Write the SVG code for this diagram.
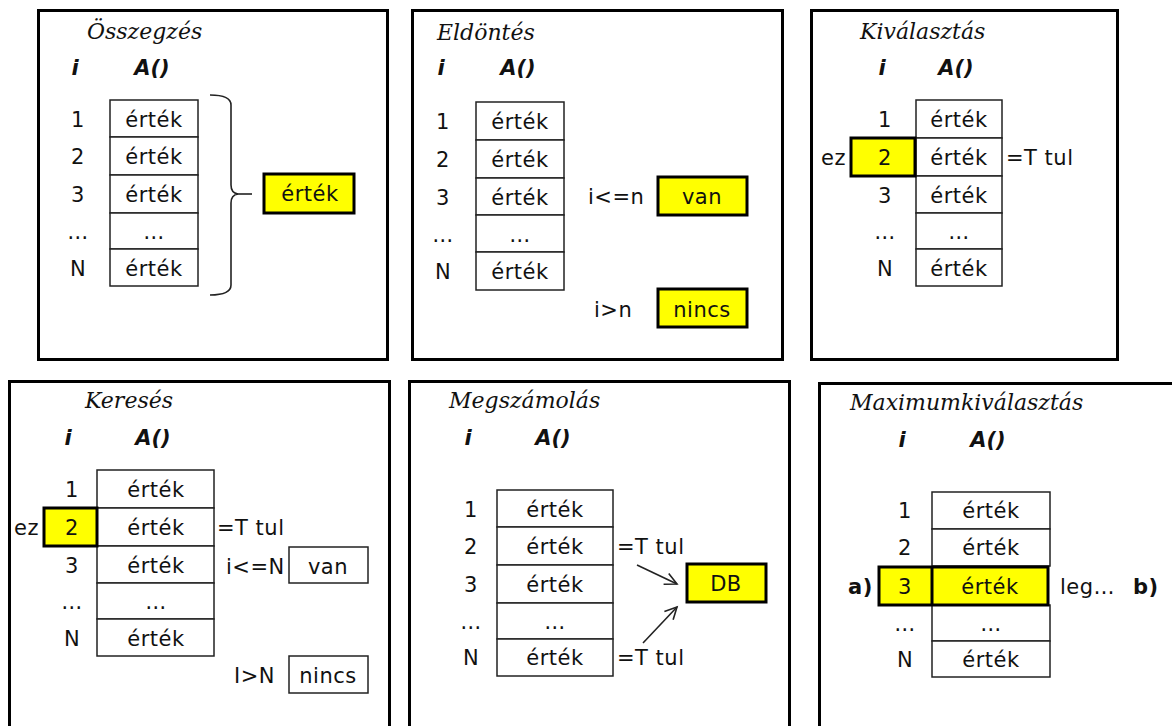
<svg xmlns="http://www.w3.org/2000/svg" width="1172" height="726" viewBox="0 0 1172 726">
<defs>
<style>
.frame{fill:none;stroke:#000;stroke-width:3}
.cell{fill:#fff;stroke:#222;stroke-width:1.5}
.hl{fill:#ff0;stroke:#000;stroke-width:3}
.box{fill:#fff;stroke:#222;stroke-width:1.5}
.t{font-family:"DejaVu Sans",Verdana,sans-serif;font-size:21px;letter-spacing:0.5px;fill:#111}
.c{text-anchor:middle}
.b{font-weight:bold}
.title{font-family:"DejaVu Serif",serif;font-style:italic;font-size:22px;fill:#111}
.hdr{font-family:"DejaVu Sans",sans-serif;font-weight:bold;font-style:italic;font-size:21px;fill:#111;text-anchor:middle}
.ln{fill:none;stroke:#222;stroke-width:1.6}
</style>
<marker id="arr" markerWidth="16" markerHeight="16" refX="13" refY="8" orient="auto" markerUnits="userSpaceOnUse">
<path d="M1,2 L13,8 L1,14" fill="none" stroke="#222" stroke-width="1.6"/>
</marker>
</defs>
<rect width="1172" height="726" fill="#fff"/>

<!-- Panel 1: Összegzés -->
<g id="osszegzes">
<rect class="frame" x="38.5" y="10.5" width="349" height="349"/>
<text class="title" x="87" y="39">Összegzés</text>
<text class="hdr" x="75" y="75">i</text>
<text class="hdr" x="152" y="75">A()</text>
<g id="osszegzes-table">
<rect class="cell" x="110" y="100" width="88" height="37"/>
<rect class="cell" x="110" y="137" width="88" height="38"/>
<rect class="cell" x="110" y="175" width="88" height="38"/>
<rect class="cell" x="110" y="213" width="88" height="36"/>
<rect class="cell" x="110" y="249" width="88" height="37"/>
<text class="t c" x="78" y="127">1</text>
<text class="t c" x="78" y="164">2</text>
<text class="t c" x="78" y="202">3</text>
<text class="t c" x="78" y="239">…</text>
<text class="t c" x="78" y="276">N</text>
<text class="t c" x="154" y="127">érték</text>
<text class="t c" x="154" y="164">érték</text>
<text class="t c" x="154" y="202">érték</text>
<text class="t c" x="154" y="239">…</text>
<text class="t c" x="154" y="276">érték</text>
</g>
<g id="osszegzes-result">
<rect class="hl" x="264" y="174" width="90" height="39"/>
<text class="t c" x="310" y="201">érték</text>
</g>
</g>

<!-- Panel 2: Eldöntés -->
<g id="eldontes">
<rect class="frame" x="412.5" y="10.5" width="370" height="349"/>
<text class="title" x="437" y="40">Eldöntés</text>
<text class="hdr" x="441" y="75">i</text>
<text class="hdr" x="518" y="75">A()</text>
<g id="eldontes-table">
<rect class="cell" x="476" y="102" width="88" height="38"/>
<rect class="cell" x="476" y="140" width="88" height="38"/>
<rect class="cell" x="476" y="178" width="88" height="37"/>
<rect class="cell" x="476" y="215" width="88" height="37"/>
<rect class="cell" x="476" y="252" width="88" height="38"/>
<text class="t c" x="443" y="129">1</text>
<text class="t c" x="443" y="167">2</text>
<text class="t c" x="443" y="205">3</text>
<text class="t c" x="443" y="242">…</text>
<text class="t c" x="443" y="279">N</text>
<text class="t c" x="520" y="129">érték</text>
<text class="t c" x="520" y="167">érték</text>
<text class="t c" x="520" y="205">érték</text>
<text class="t c" x="520" y="242">…</text>
<text class="t c" x="520" y="279">érték</text>
</g>
<text class="t" x="588" y="204">i&lt;=n</text>
<g id="eldontes-van">
<rect class="hl" x="658" y="177" width="89" height="38"/>
<text class="t c" x="702" y="204">van</text>
</g>
<text class="t" x="594" y="317">i&gt;n</text>
<g id="eldontes-nincs">
<rect class="hl" x="658" y="289" width="89" height="38"/>
<text class="t c" x="702" y="317">nincs</text>
</g>
</g>

<!-- Panel 3: Kiválasztás -->
<g id="kivalasztas">
<rect class="frame" x="811.5" y="10.5" width="306" height="349"/>
<text class="title" x="860" y="39">Kiválasztás</text>
<text class="hdr" x="882" y="75">i</text>
<text class="hdr" x="956" y="75">A()</text>
<g id="kivalasztas-table">
<rect class="cell" x="916" y="100" width="86" height="38"/>
<rect class="cell" x="916" y="138" width="86" height="38"/>
<rect class="cell" x="916" y="176" width="86" height="37"/>
<rect class="cell" x="916" y="213" width="86" height="36"/>
<rect class="cell" x="916" y="249" width="86" height="37"/>
<text class="t c" x="885" y="127">1</text>
<text class="t c" x="885" y="203">3</text>
<text class="t c" x="885" y="239">…</text>
<text class="t c" x="885" y="276">N</text>
<text class="t c" x="959" y="127">érték</text>
<text class="t c" x="959" y="165">érték</text>
<text class="t c" x="959" y="203">érték</text>
<text class="t c" x="959" y="239">…</text>
<text class="t c" x="959" y="276">érték</text>
</g>
<g id="kivalasztas-ez">
<rect class="hl" x="851" y="138" width="64" height="38"/>
<text class="t c" x="885" y="165">2</text>
</g>
<text class="t" x="821" y="165">ez</text>
<text class="t" x="1006" y="165">=T tul</text>
</g>

<!-- Panel 4: Keresés -->
<g id="kereses">
<rect class="frame" x="9.5" y="381.5" width="380" height="380"/>
<text class="title" x="85" y="408">Keresés</text>
<text class="hdr" x="68" y="445">i</text>
<text class="hdr" x="153" y="445">A()</text>
<g id="kereses-table">
<rect class="cell" x="97" y="470" width="117" height="38"/>
<rect class="cell" x="97" y="508" width="117" height="38"/>
<rect class="cell" x="97" y="546" width="117" height="37"/>
<rect class="cell" x="97" y="583" width="117" height="36"/>
<rect class="cell" x="97" y="619" width="117" height="37"/>
<text class="t c" x="72" y="497">1</text>
<text class="t c" x="72" y="573">3</text>
<text class="t c" x="72" y="609">…</text>
<text class="t c" x="72" y="646">N</text>
<text class="t c" x="156" y="497">érték</text>
<text class="t c" x="156" y="535">érték</text>
<text class="t c" x="156" y="573">érték</text>
<text class="t c" x="156" y="609">…</text>
<text class="t c" x="156" y="646">érték</text>
</g>
<g id="kereses-ez">
<rect class="hl" x="44" y="508" width="53" height="38"/>
<text class="t c" x="72" y="535">2</text>
</g>
<text class="t" x="14" y="535">ez</text>
<text class="t" x="217" y="535">=T tul</text>
<text class="t" x="226" y="574">i&lt;=N</text>
<g id="kereses-van">
<rect class="box" x="289" y="547" width="79" height="36"/>
<text class="t c" x="328" y="574">van</text>
</g>
<text class="t" x="234" y="683">I&gt;N</text>
<g id="kereses-nincs">
<rect class="box" x="289" y="656" width="79" height="37"/>
<text class="t c" x="328" y="683">nincs</text>
</g>
</g>

<!-- Panel 5: Megszámolás -->
<g id="megszamolas">
<rect class="frame" x="409.5" y="381.5" width="380" height="380"/>
<text class="title" x="449" y="408">Megszámolás</text>
<text class="hdr" x="468" y="445">i</text>
<text class="hdr" x="553" y="445">A()</text>
<g id="megszamolas-table">
<rect class="cell" x="497" y="490" width="116" height="37"/>
<rect class="cell" x="497" y="527" width="116" height="38"/>
<rect class="cell" x="497" y="565" width="116" height="38"/>
<rect class="cell" x="497" y="603" width="116" height="36"/>
<rect class="cell" x="497" y="639" width="116" height="37"/>
<text class="t c" x="471" y="517">1</text>
<text class="t c" x="471" y="554">2</text>
<text class="t c" x="471" y="592">3</text>
<text class="t c" x="471" y="629">…</text>
<text class="t c" x="471" y="665">N</text>
<text class="t c" x="555" y="517">érték</text>
<text class="t c" x="555" y="554">érték</text>
<text class="t c" x="555" y="592">érték</text>
<text class="t c" x="555" y="629">…</text>
<text class="t c" x="555" y="665">érték</text>
</g>
<text class="t" x="617" y="554">=T tul</text>
<text class="t" x="617" y="665">=T tul</text>
<g id="megszamolas-db">
<rect class="hl" x="687" y="564" width="79" height="38"/>
<text class="t c" x="726" y="591">DB</text>
</g>
</g>

<!-- Panel 6: Maximumkiválasztás -->
<g id="maximumkivalasztas">
<rect class="frame" x="819.5" y="383.5" width="400" height="380"/>
<text class="title" x="850" y="410">Maximumkiválasztás</text>
<text class="hdr" x="902" y="447">i</text>
<text class="hdr" x="988" y="447">A()</text>
<g id="maximum-table">
<rect class="cell" x="932" y="492" width="118" height="37"/>
<rect class="cell" x="932" y="529" width="118" height="37"/>
<rect class="cell" x="932" y="605" width="118" height="36"/>
<rect class="cell" x="932" y="641" width="118" height="36"/>
<text class="t c" x="905" y="518">1</text>
<text class="t c" x="905" y="555">2</text>
<text class="t c" x="905" y="631">…</text>
<text class="t c" x="905" y="667">N</text>
<text class="t c" x="991" y="518">érték</text>
<text class="t c" x="991" y="555">érték</text>
<text class="t c" x="991" y="631">…</text>
<text class="t c" x="991" y="667">érték</text>
</g>
<g id="maximum-row">
<rect class="hl" x="879" y="567" width="169" height="38"/>
<line x1="932" y1="567" x2="932" y2="605" stroke="#000" stroke-width="3"/>
<text class="t c" x="905" y="594">3</text>
<text class="t c" x="990" y="594">érték</text>
</g>
<text class="t b" x="848" y="594">a)</text>
<text class="t" x="1060" y="594">leg…</text>
<text class="t b" x="1133" y="594">b)</text>
</g>

<!-- Connectors -->
<g id="connectors">
<path class="ln" d="M210,95 Q231,95 231,105 L231,185 Q231,193 238,194 Q231,195 231,203 L231,285 Q231,295 210,295"/>
<line class="ln" x1="236" y1="194" x2="252" y2="194"/>
<line class="ln" x1="637" y1="565" x2="677" y2="584" marker-end="url(#arr)"/>
<line class="ln" x1="643" y1="643" x2="677" y2="607" marker-end="url(#arr)"/>
</g>
</svg>
